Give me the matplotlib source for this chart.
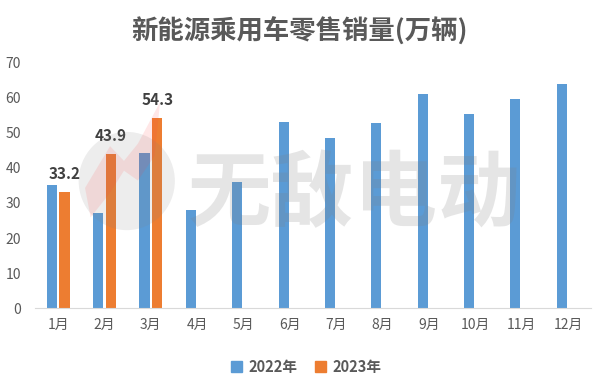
import matplotlib.pyplot as plt
import matplotlib.patches as mpatches
import numpy as np

plt.rcParams['font.family'] = ['Noto Sans CJK SC', 'DejaVu Sans']

# Data
months = ["1月", "2月", "3月", "4月", "5月", "6月", "7月", "8月", "9月", "10月", "11月", "12月"]
sales_2022 = [35.1, 27.2, 44.3, 28.0, 36.0, 53.1, 48.5, 52.8, 61.1, 55.4, 59.7, 63.9]
sales_2023 = [33.2, 43.9, 54.3]
series_names = ["2022年", "2023年"]
title = "新能源乘用车零售销量(万辆)"

BLUE = "#5B9BD5"
ORANGE = "#ED7D31"
GREY = "#595959"

fig = plt.figure(figsize=(6, 3.78), dpi=100)
ax = fig.add_axes([0.0583, 0.1844, 0.927, 0.650])

x = np.arange(len(months))
w = 0.216
off = 0.137

ax.bar(x - off, sales_2022, width=w, color=BLUE, label=series_names[0], zorder=2)
bars23 = ax.bar(x[:len(sales_2023)] + off, sales_2023, width=w, color=ORANGE,
                label=series_names[1], zorder=2)

for b, v in zip(bars23, sales_2023):
    ax.annotate(f"{v:.1f}", (b.get_x() + b.get_width() / 2, v), xytext=(0, 7),
                textcoords="offset points", ha="center", va="bottom",
                fontsize=11, fontweight="bold", color="#404040")

ax.set_xlim(-0.5, len(months) - 0.5)
ax.set_ylim(0, 70)
ax.set_yticks(range(0, 71, 10))
ax.set_xticks(x)
ax.set_xticklabels(months)
ax.tick_params(axis="both", length=0, colors=GREY, labelsize=10)
ax.tick_params(axis="x", pad=7)
ax.tick_params(axis="y", pad=10)
for s in ["top", "right", "left"]:
    ax.spines[s].set_visible(False)
ax.spines["bottom"].set_color("#D9D9D9")
ax.spines["bottom"].set_zorder(3)

fig.suptitle(title, x=0.5, y=0.955, fontsize=19, fontweight="bold", color=GREY)

handles = [mpatches.Patch(color=BLUE), mpatches.Patch(color=ORANGE)]
leg = fig.legend(handles, series_names, loc="center", bbox_to_anchor=(0.51, 0.03),
                 ncol=2, frameon=False, handlelength=0.8, handleheight=0.8,
                 handletextpad=0.4, columnspacing=1.2,
                 prop={"weight": "bold", "size": 10.5})
for t in leg.get_texts():
    t.set_color(GREY)

# watermark (logo + text)
ax.add_patch(mpatches.Ellipse((0.165, 0.518), 0.173, 0.40, transform=ax.transAxes,
                              facecolor="#808080", alpha=0.14, zorder=4,
                              edgecolor="none"))
ax.add_patch(mpatches.Polygon([(0.09, 0.49), (0.135, 0.66), (0.16, 0.60), (0.185, 0.67),
                               (0.225, 0.84), (0.215, 0.62), (0.185, 0.52), (0.16, 0.56),
                               (0.135, 0.47), (0.10, 0.37)],
                              closed=True, transform=ax.transAxes,
                              facecolor="#ff4040", alpha=0.12, zorder=4, edgecolor="none"))
ax.text(0.575, 0.46, "无敌电动", transform=ax.transAxes, ha="center", va="center",
        fontsize=60, fontweight="bold", color="#808080", alpha=0.2, zorder=4)

fig.savefig("out.png", dpi=100)
